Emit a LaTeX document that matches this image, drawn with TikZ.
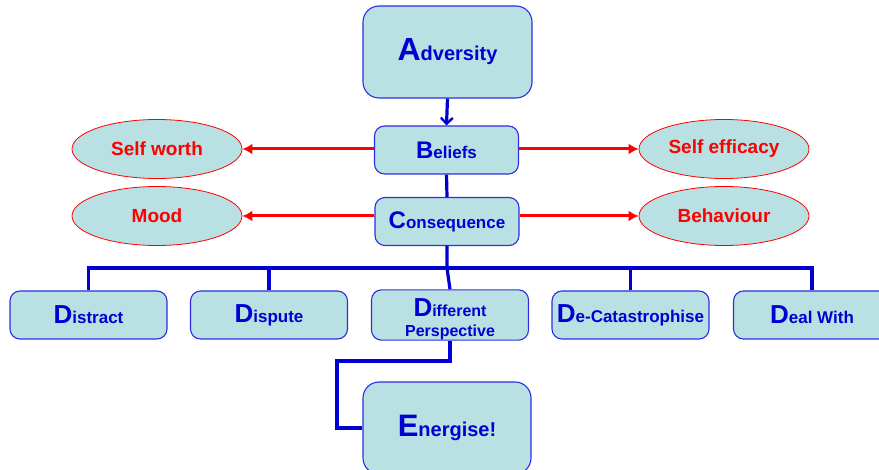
\documentclass[tikz,border=0pt]{standalone}
\usepackage{fontspec}
\setmainfont{Liberation Sans}
\usetikzlibrary{arrows.meta,shapes.geometric}
\definecolor{boxfill}{RGB}{185,224,227}
\definecolor{boxline}{RGB}{45,45,225}
\definecolor{ink}{RGB}{0,0,210}
\definecolor{hot}{RGB}{255,0,0}
\newcommand{\initial}[2][24]{{\fontsize{#1}{#1}\selectfont #2}}
\begin{document}
\begin{tikzpicture}[x=1pt,y=-1pt,
  box/.style={draw=boxline,line width=1.1pt,fill=boxfill,rectangle,rounded corners=10pt,
    inner sep=0pt,text=ink,font=\bfseries\fontsize{17}{19}\selectfont,align=center},
  bigbox/.style={box,rounded corners=16pt,minimum width=169pt,minimum height=92pt,
    font=\bfseries\fontsize{20}{22}\selectfont},
  midbox/.style={box,minimum width=144pt,minimum height=48pt},
  dbox/.style={box,minimum width=157pt,minimum height=48pt},
  oval/.style={draw=hot,line width=0.8pt,fill=boxfill,ellipse,minimum width=170pt,
    minimum height=59pt,inner sep=0pt,text=hot,font=\bfseries\fontsize{19}{21}\selectfont},
  flow/.style={draw=ink,line width=3.2pt},
  spoke/.style={draw=hot,line width=3pt,-{Latex[length=10pt,width=11pt]}}]
\useasboundingbox (0,0) rectangle (879,470);

% main chain
\node[bigbox] (adv) at (447.5,52) {\initial[32]{A}dversity};
\node[midbox] (bel) at (446.5,150) {\initial{B}eliefs};
\node[midbox] (con) at (447,221.5) {\initial{C}onsequence};

% side effects
\node[oval] (sw) at (157,149) {Self worth};
\node[oval] (mood) at (157,216) {Mood};
\node[oval] (se) at (724,149) {Self efficacy};
\node[oval] (beh) at (724,216) {Behaviour};

% the five D's
\node[dbox] (dis) at (88.5,315) {\initial[26]{D}istract};
\node[dbox] (dsp) at (269,315) {\initial[26]{D}ispute};
\node[dbox,text height=47pt,font=\bfseries\fontsize{16}{18}\selectfont] (dp) at (450,315)
  {\initial[26]{D}ifferent\\[2pt]Perspective};
\node[dbox] (dc) at (630.5,315) {\initial[26]{D}e-Catastrophise};
\node[dbox] (dw) at (812,315) {\initial[26]{D}eal With};

\node[bigbox,minimum width=168pt] (en) at (447,428) {\initial[31]{E}nergise!};

% connectors
\draw[flow,-{Straight Barb[length=6pt,width=12pt,line width=2.4pt]}] (adv.south) -- (bel.north);
\draw[flow] (bel.south) -- (con.north);

\draw[spoke] (sw.east -| bel.west) -- (sw.east);
\draw[spoke] (se.west -| bel.east) -- (se.west);
\draw[spoke] (mood.east -| con.west) -- (mood.east);
\draw[spoke] (beh.west -| con.east) -- (beh.west);

\coordinate (bus) at (447,268);
\draw[flow] (con.south) -- (bus) -- (dp.north);
\draw[flow] (dis.north) -- (dis.north |- bus) -- (dw.north |- bus) -- (dw.north);
\draw[flow] (dsp.north) -- (dsp.north |- bus);
\draw[flow] (dc.north) -- (dc.north |- bus);

\coordinate (turn) at (337,361);
\draw[flow] (dp.south) |- (turn) |- (en.west);
\end{tikzpicture}
\end{document}
